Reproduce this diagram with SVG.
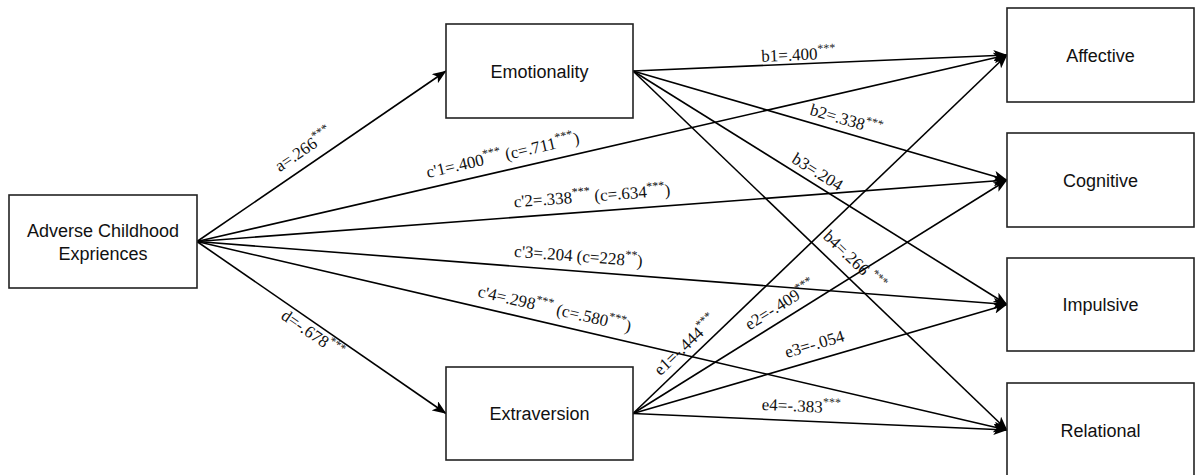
<svg xmlns="http://www.w3.org/2000/svg" width="1196" height="475" viewBox="0 0 1196 475">
  <style>
    .box { fill: #ffffff; stroke: #222222; stroke-width: 1.6; }
    .node-text { font-family: "Liberation Sans", Arial, Helvetica, sans-serif; font-size: 18px; fill: #111111; text-anchor: middle; }
    .edge { stroke: #000000; stroke-width: 1.6; fill: none; marker-end: url(#arrow); }
    .lbl { font-family: "Liberation Serif", "Times New Roman", serif; font-size: 17px; fill: #111111; text-anchor: middle; }
    .sup { font-size: 12px; }
  </style>
  <defs>
    <marker id="arrow" viewBox="0 0 14 11" refX="13.5" refY="5.5" markerWidth="14" markerHeight="11" orient="auto" markerUnits="userSpaceOnUse">
      <path d="M0,0 L14,5.5 L0,11 L3.5,5.5 Z" fill="#000000"/>
    </marker>
  </defs>
  <rect width="1196" height="475" fill="#ffffff"/>

  <!-- paths and coefficients -->
  <g id="connectors">
    <g id="edge-a">
      <line class="edge" x1="197" y1="241.5" x2="446" y2="71"/>
      <text class="lbl" transform="translate(306.6,154) rotate(-34.3)">a=.266<tspan class="sup" dy="-7">***</tspan></text>
    </g>
    <g id="edge-d">
      <line class="edge" x1="197" y1="241.5" x2="446" y2="413.5"/>
      <text class="lbl" transform="translate(309.4,338.3) rotate(34.6)">d=-.678<tspan class="sup" dy="-7">***</tspan></text>
    </g>
    <g id="edge-c1">
      <line class="edge" x1="197" y1="241.5" x2="1007" y2="55"/>
      <text class="lbl" transform="translate(504,160.5) rotate(-12.9)">c'1=.400<tspan class="sup" dy="-7">***</tspan><tspan dy="7"> (c=.711</tspan><tspan class="sup" dy="-7">***</tspan><tspan dy="7">)</tspan></text>
    </g>
    <g id="edge-c2">
      <line class="edge" x1="197" y1="241.5" x2="1007" y2="180"/>
      <text class="lbl" transform="translate(592.5,201.5) rotate(-4.3)">c'2=.338<tspan class="sup" dy="-7">***</tspan><tspan dy="7"> (c=.634</tspan><tspan class="sup" dy="-7">***</tspan><tspan dy="7">)</tspan></text>
    </g>
    <g id="edge-c3">
      <line class="edge" x1="197" y1="241.5" x2="1007" y2="304.5"/>
      <text class="lbl" transform="translate(578,261.7) rotate(4.45)">c'3=.204 (c=228<tspan class="sup" dy="-7">**</tspan><tspan dy="7">)</tspan></text>
    </g>
    <g id="edge-c4">
      <line class="edge" x1="197" y1="241.5" x2="1007" y2="430"/>
      <text class="lbl" transform="translate(553.4,314.2) rotate(13.1)">c'4=.298<tspan class="sup" dy="-7">***</tspan><tspan dy="7"> (c=.580</tspan><tspan class="sup" dy="-7">***</tspan><tspan dy="7">)</tspan></text>
    </g>

    <g id="edge-b1">
      <line class="edge" x1="633" y1="71" x2="1007" y2="55"/>
      <text class="lbl" transform="translate(798.7,60.2) rotate(-2.45)">b1=.400<tspan class="sup" dy="-7">***</tspan></text>
    </g>
    <g id="edge-b2">
      <line class="edge" x1="633" y1="71" x2="1007" y2="180"/>
      <text class="lbl" transform="translate(844.6,125) rotate(16.25)">b2=.338<tspan class="sup" dy="-7">***</tspan></text>
    </g>
    <g id="edge-b3">
      <line class="edge" x1="633" y1="71" x2="1007" y2="304.5"/>
      <text class="lbl" transform="translate(814.6,176.6) rotate(31.9)">b3=.204</text>
    </g>
    <g id="edge-b4">
      <line class="edge" x1="633" y1="71" x2="1007" y2="430"/>
      <text class="lbl" transform="translate(850.5,264.6) rotate(43.8)">b4=.266 <tspan class="sup" dy="-7">***</tspan></text>
    </g>

    <g id="edge-e1">
      <line class="edge" x1="633" y1="413.5" x2="1007" y2="55"/>
      <text class="lbl" transform="translate(689,349) rotate(-43.7)">e1=-.444<tspan class="sup" dy="-7">***</tspan></text>
    </g>
    <g id="edge-e2">
      <line class="edge" x1="633" y1="413.5" x2="1007" y2="180"/>
      <text class="lbl" transform="translate(783,309.5) rotate(-31.9)">e2=-.409<tspan class="sup" dy="-7">***</tspan></text>
    </g>
    <g id="edge-e3">
      <line class="edge" x1="633" y1="413.5" x2="1007" y2="304.5"/>
      <text class="lbl" transform="translate(816,349.5) rotate(-16.25)">e3=-.054</text>
    </g>
    <g id="edge-e4">
      <line class="edge" x1="633" y1="413.5" x2="1007" y2="430"/>
      <text class="lbl" transform="translate(801,411.7) rotate(2.6)">e4=-.383<tspan class="sup" dy="-7">***</tspan></text>
    </g>
  </g>

  <!-- predictor -->
  <g id="node-ace">
    <rect class="box" x="9" y="195" width="188" height="93"/>
    <text class="node-text" x="103" y="236.5">Adverse Childhood</text>
    <text class="node-text" x="103" y="259.5">Expriences</text>
  </g>

  <!-- mediators -->
  <g id="node-emotionality">
    <rect class="box" x="446" y="24" width="187" height="94"/>
    <text class="node-text" x="539.5" y="77.5">Emotionality</text>
  </g>
  <g id="node-extraversion">
    <rect class="box" x="446" y="367" width="187" height="93"/>
    <text class="node-text" x="539.5" y="420">Extraversion</text>
  </g>

  <!-- outcomes -->
  <g id="node-affective">
    <rect class="box" x="1007" y="8" width="187" height="94"/>
    <text class="node-text" x="1100.5" y="61.5">Affective</text>
  </g>
  <g id="node-cognitive">
    <rect class="box" x="1007" y="133" width="187" height="94"/>
    <text class="node-text" x="1100.5" y="186.5">Cognitive</text>
  </g>
  <g id="node-impulsive">
    <rect class="box" x="1007" y="258" width="187" height="93"/>
    <text class="node-text" x="1100.5" y="311">Impulsive</text>
  </g>
  <g id="node-relational">
    <rect class="box" x="1007" y="383" width="187" height="94"/>
    <text class="node-text" x="1100.5" y="436.5">Relational</text>
  </g>
</svg>
